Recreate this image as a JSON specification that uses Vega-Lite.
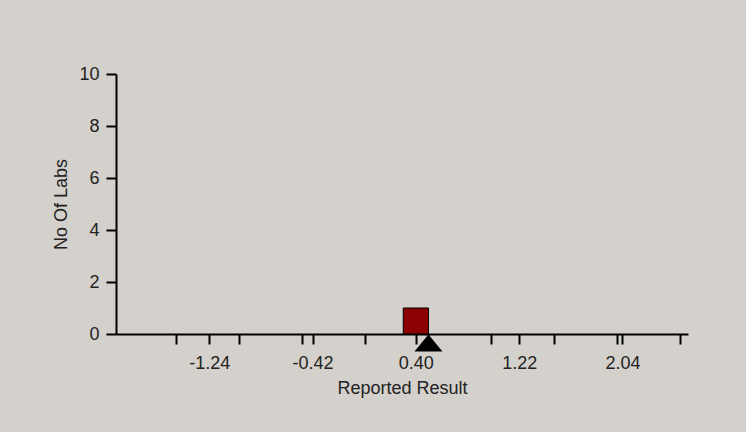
{
  "$schema": "https://vega.github.io/schema/vega-lite/v6.json",
  "width": 572,
  "height": 260,
  "autosize": {"type": "none"},
  "padding": {"left": 116, "top": 74, "right": 58, "bottom": 98},
  "background": "#d4d0cb",
  "config": {
    "view": {"stroke": null},
    "font": "Liberation Sans",
    "axis": {
      "domainColor": "#000000",
      "domainWidth": 2,
      "tickColor": "#000000",
      "tickWidth": 2,
      "grid": false,
      "labelFont": "Liberation Sans",
      "labelFontSize": 18,
      "labelColor": "#222222",
      "titleFont": "Liberation Sans",
      "titleFontSize": 18,
      "titleFontWeight": "normal",
      "titleColor": "#222222"
    }
  },
  "layer": [
    {
      "data": {"values": [{"from": 0.3, "to": 0.5, "labs": 1, "base": 0}]},
      "mark": {"type": "rect", "fill": "#8b0000", "stroke": "#000000", "strokeWidth": 1},
      "encoding": {
        "x": {
          "field": "from",
          "type": "quantitative",
          "scale": {"domain": [-1.98, 2.56], "nice": false, "zero": false},
          "axis": {
            "title": "Reported Result",
            "values": [-1.5, -1.24, -1, -0.5, -0.42, 0, 0.4, 0.5, 1, 1.22, 1.5, 2, 2.04, 2.5],
            "labelExpr": "indexof(['-1.24','-0.42','0.40','1.22','2.04'], replace(format(datum.value, '.2f'), '\u2212', '-')) >= 0 ? replace(format(datum.value, '.2f'), '\u2212', '-') : ''",
            "tickSize": 10,
            "labelPadding": 10,
            "labelOverlap": false,
            "labelFlush": false,
            "titlePadding": 7
          }
        },
        "x2": {"field": "to"},
        "y": {
          "field": "labs",
          "type": "quantitative",
          "scale": {"domain": [0, 10], "nice": false},
          "axis": {
            "title": "No Of Labs",
            "values": [0, 2, 4, 6, 8, 10],
            "tickSize": 10,
            "labelPadding": 7,
            "titlePadding": 8
          }
        },
        "y2": {"field": "base"}
      }
    },
    {
      "data": {"values": [{"assigned": 0.5, "base": 0}]},
      "mark": {
        "type": "point",
        "shape": "M-1,0.6L0,-0.6L1,0.6Z",
        "filled": true,
        "color": "#000000",
        "opacity": 1,
        "size": 784,
        "yOffset": 9,
        "clip": false
      },
      "encoding": {
        "x": {"field": "assigned", "type": "quantitative"},
        "y": {"field": "base", "type": "quantitative"}
      }
    }
  ]
}
